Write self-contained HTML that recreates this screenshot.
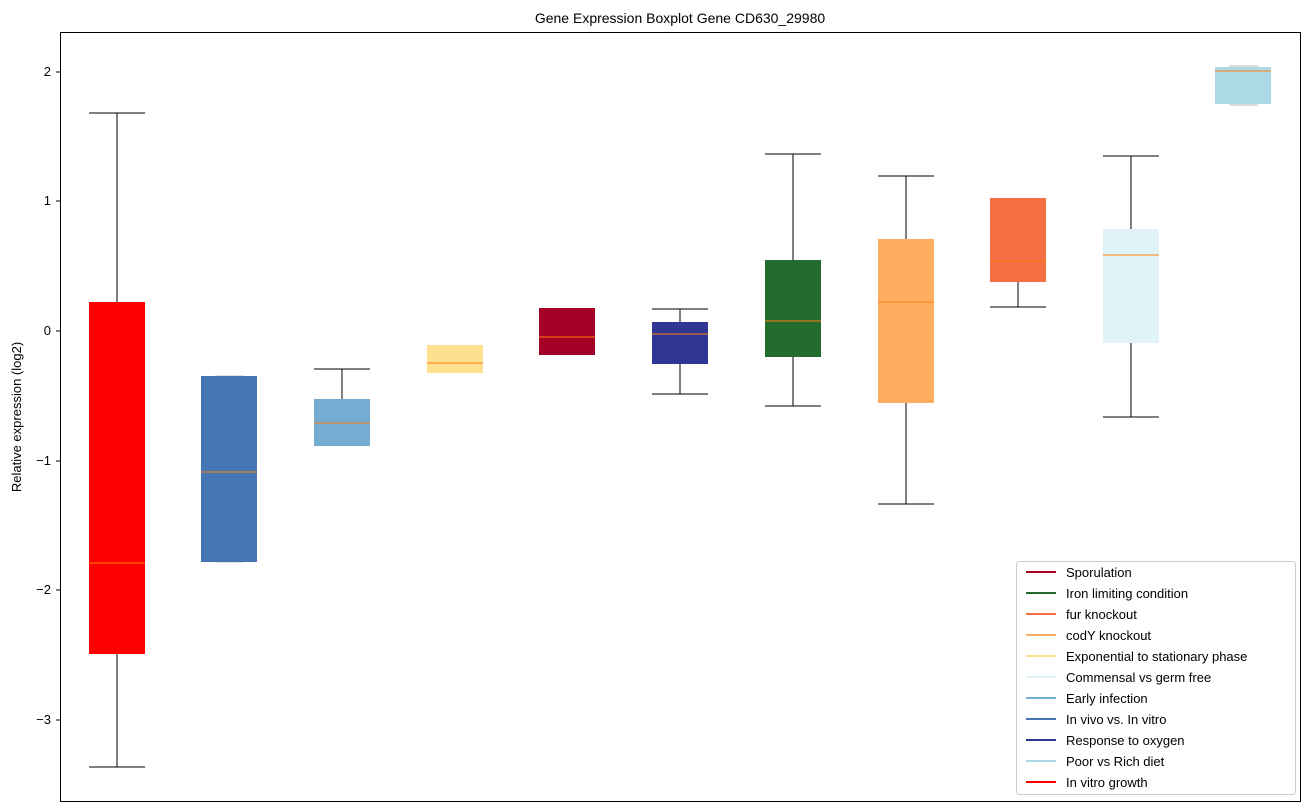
<!DOCTYPE html>
<html><head><meta charset="utf-8"><style>
body{margin:0;background:#fff;}
svg{display:block;font-family:"Liberation Sans","DejaVu Sans",sans-serif;}
</style></head><body>
<svg width="1309" height="812" viewBox="0 0 1309 812">
<rect width="1309" height="812" fill="#fff"/>
<text x="680" y="23" font-size="14" text-anchor="middle">Gene Expression Boxplot Gene CD630_29980</text>
<g stroke="#000" stroke-width="1" fill="none">
<line x1="117" y1="113" x2="117" y2="302"/><line x1="89" y1="113" x2="145" y2="113"/>
<line x1="117" y1="654" x2="117" y2="767"/><line x1="89" y1="767" x2="145" y2="767"/>
<line x1="342" y1="369" x2="342" y2="399"/><line x1="314" y1="369" x2="370" y2="369"/>
<line x1="680" y1="309" x2="680" y2="322"/><line x1="652" y1="309" x2="708" y2="309"/>
<line x1="680" y1="364" x2="680" y2="394"/><line x1="652" y1="394" x2="708" y2="394"/>
<line x1="793" y1="154" x2="793" y2="260"/><line x1="765" y1="154" x2="821" y2="154"/>
<line x1="793" y1="357" x2="793" y2="406"/><line x1="765" y1="406" x2="821" y2="406"/>
<line x1="906" y1="176" x2="906" y2="239"/><line x1="878" y1="176" x2="934" y2="176"/>
<line x1="906" y1="403" x2="906" y2="504"/><line x1="878" y1="504" x2="934" y2="504"/>
<line x1="1018" y1="282" x2="1018" y2="307"/><line x1="990" y1="307" x2="1046" y2="307"/>
<line x1="1131" y1="156" x2="1131" y2="229"/><line x1="1103" y1="156" x2="1159" y2="156"/>
<line x1="1131" y1="343" x2="1131" y2="417"/><line x1="1103" y1="417" x2="1159" y2="417"/>
</g>
<g stroke="#bbb" stroke-width="1">
<line x1="215" y1="376" x2="243" y2="376"/><line x1="215" y1="562" x2="243" y2="562"/>
<line x1="1229" y1="66" x2="1258" y2="66"/><line x1="1229" y1="105" x2="1258" y2="105"/>
</g>
<g>
<rect x="89" y="302" width="56" height="352" fill="#ff0000"/>
<rect x="201" y="376" width="56" height="186" fill="#4575b4"/>
<rect x="314" y="399" width="56" height="47" fill="#74add1"/>
<rect x="427" y="345" width="56" height="28" fill="#fee090"/>
<rect x="539" y="308" width="56" height="47" fill="#a50026"/>
<rect x="652" y="322" width="56" height="42" fill="#313695"/>
<rect x="765" y="260" width="56" height="97" fill="#236b2f"/>
<rect x="878" y="239" width="56" height="164" fill="#fdae61"/>
<rect x="990" y="198" width="56" height="84" fill="#f46d43"/>
<rect x="1103" y="229" width="56" height="114" fill="#e0f3f8"/>
<rect x="1215" y="67" width="56" height="37" fill="#add8e6"/>
</g>
<g stroke="#ff7f0e" stroke-width="1">
<line x1="89" y1="563" x2="145" y2="563"/>
<line x1="201" y1="472" x2="257" y2="472"/>
<line x1="314" y1="423" x2="370" y2="423"/>
<line x1="427" y1="363" x2="483" y2="363"/>
<line x1="539" y1="337" x2="595" y2="337"/>
<line x1="652" y1="334" x2="708" y2="334"/>
<line x1="765" y1="321" x2="821" y2="321"/>
<line x1="878" y1="302" x2="934" y2="302"/>
<line x1="990" y1="261" x2="1046" y2="261"/>
<line x1="1103" y1="255" x2="1159" y2="255"/>
<line x1="1215" y1="71" x2="1271" y2="71"/>
</g>
<rect x="60.5" y="32.5" width="1240" height="769" fill="none" stroke="#000"/>
<g stroke="#000">
<line x1="56" y1="72" x2="60" y2="72"/><line x1="56" y1="201" x2="60" y2="201"/><line x1="56" y1="331" x2="60" y2="331"/>
<line x1="56" y1="461" x2="60" y2="461"/><line x1="56" y1="590" x2="60" y2="590"/><line x1="56" y1="720" x2="60" y2="720"/>
</g>
<g font-size="13" text-anchor="end" fill="#000">
<text x="51" y="76">2</text><text x="51" y="205">1</text><text x="51" y="335">0</text>
<text x="51" y="465">−1</text><text x="51" y="594">−2</text><text x="51" y="724">−3</text>
</g>
<text transform="translate(21,417) rotate(-90)" font-size="13" text-anchor="middle">Relative expression (log2)</text>
<rect x="1016.5" y="561.5" width="279" height="233" rx="3" fill="#fff" fill-opacity="0.8" stroke="#ccc"/>
<g font-size="13" stroke-width="2">
<line x1="1026" y1="572" x2="1056" y2="572" stroke="#a50026"/><text x="1066" y="577">Sporulation</text>
<line x1="1026" y1="593" x2="1056" y2="593" stroke="#236b2f"/><text x="1066" y="598">Iron limiting condition</text>
<line x1="1026" y1="614" x2="1056" y2="614" stroke="#f46d43"/><text x="1066" y="619">fur knockout</text>
<line x1="1026" y1="635" x2="1056" y2="635" stroke="#fdae61"/><text x="1066" y="640">codY knockout</text>
<line x1="1026" y1="656" x2="1056" y2="656" stroke="#fee090"/><text x="1066" y="661">Exponential to stationary phase</text>
<line x1="1026" y1="677" x2="1056" y2="677" stroke="#e0f3f8"/><text x="1066" y="682">Commensal vs germ free</text>
<line x1="1026" y1="698" x2="1056" y2="698" stroke="#74add1"/><text x="1066" y="703">Early infection</text>
<line x1="1026" y1="719" x2="1056" y2="719" stroke="#4575b4"/><text x="1066" y="724">In vivo vs. In vitro</text>
<line x1="1026" y1="740" x2="1056" y2="740" stroke="#313695"/><text x="1066" y="745">Response to oxygen</text>
<line x1="1026" y1="761" x2="1056" y2="761" stroke="#add8e6"/><text x="1066" y="766">Poor vs Rich diet</text>
<line x1="1026" y1="782" x2="1056" y2="782" stroke="#ff0000"/><text x="1066" y="787">In vitro growth</text>
</g>
</svg>
</body></html>
